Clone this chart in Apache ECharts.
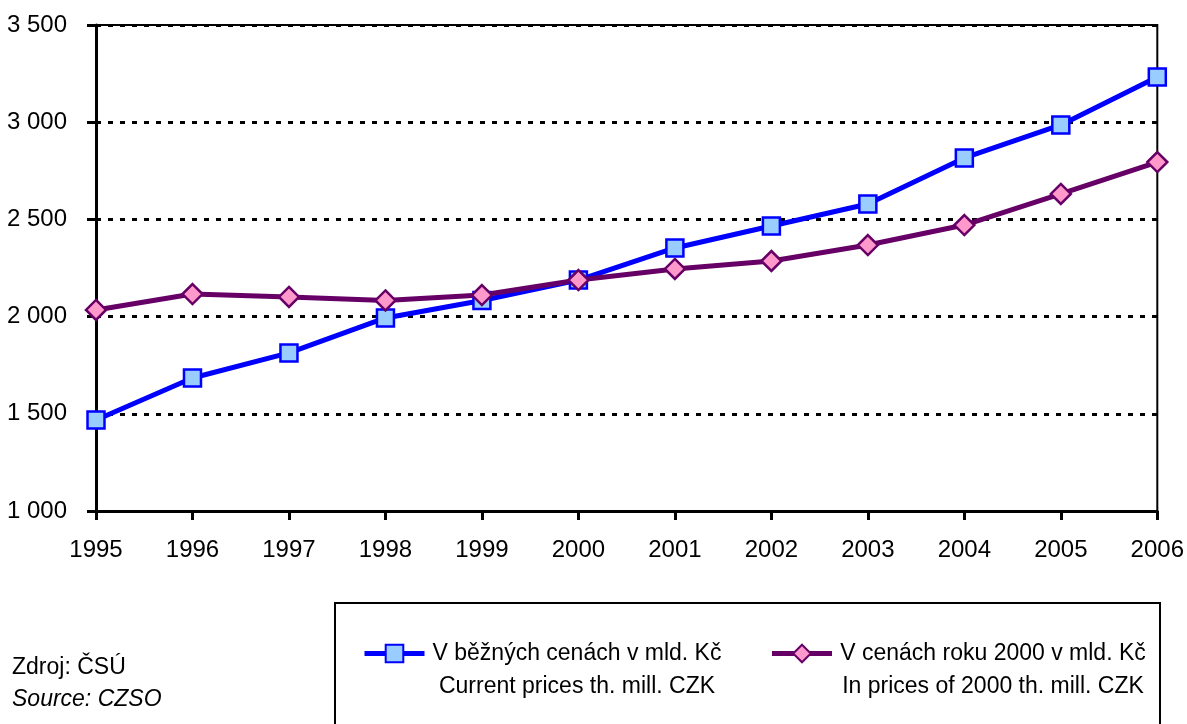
<!DOCTYPE html>
<html>
<head>
<meta charset="utf-8">
<script src="https://cdn.jsdelivr.net/npm/echarts@6/dist/echarts.min.js"></script>
<style>
  html, body { margin: 0; padding: 0; background: #fff; }
  #chart { width: 1187px; height: 724px; }
</style>
</head>
<body>
<div id="chart"></div>
<script>
var years = ['1995', '1996', '1997', '1998', '1999', '2000', '2001', '2002', '2003', '2004', '2005', '2006']
var currentPrices = [1468, 1684, 1813, 1993, 2083, 2188, 2353, 2466, 2579, 2816, 2986, 3233]
var constPrices = [2034, 2116, 2101, 2083, 2111, 2188, 2245, 2286, 2368, 2471, 2631, 2795]

var name1 = 'V běžných cenách v mld. Kč'
var name1en = 'Current prices th. mill. CZK'
var name2 = 'V cenách roku 2000 v mld. Kč'
var name2en = 'In prices of 2000 th. mill. CZK'

var font = "'Liberation Sans Narrow', 'Arial Narrow', 'Liberation Sans', sans-serif"

var chart = echarts.init(document.getElementById('chart'))

var option = {
    animation: false,
    grid: {
        left: 96, right: 29, top: 25, bottom: 213,
        show: true, borderColor: '#000', borderWidth: 2
    },
    xAxis: {
        type: 'category',
        boundaryGap: false,
        data: years,
        axisLine: { lineStyle: { color: '#000', width: 3 } },
        axisTick: { length: 9, lineStyle: { color: '#000', width: 3 } },
        axisLabel: { margin: 27, color: '#000', fontSize: 24, fontFamily: font }
    },
    yAxis: {
        type: 'value',
        min: 1000, max: 3500, interval: 500,
        axisLine: { show: true, lineStyle: { color: '#000', width: 3 } },
        axisTick: { show: true, length: 9, lineStyle: { color: '#000', width: 3 } },
        axisLabel: {
            margin: 29, color: '#000', fontSize: 24, fontFamily: font,
            formatter: function (v) { return String(v).replace(/\B(?=(\d{3})+(?!\d))/g, ' ') }
        },
        splitLine: { lineStyle: { color: '#000', width: 3, type: [5, 7] } }
    },
    legend: {
        left: 362, top: 609,
        itemWidth: 60, itemHeight: 22, itemGap: 45,
        padding: 0,
        data: [name1, name2],
        lineStyle: { width: 5 },
        formatter: function (name) {
            var k = name === name1 ? 'a' : 'b'
            var en = name === name1 ? name1en : name2en
            // blank first line keeps the icon level with the Czech line
            return '{' + k + '| }\n{' + k + '|' + name + '}\n{' + k + '|' + en + '}'
        },
        textStyle: {
            color: '#000', fontFamily: font, fontSize: 23,
            rich: {
                a: { width: 295, align: 'center', fontSize: 23, lineHeight: 33, fontFamily: font },
                b: { width: 312, align: 'center', fontSize: 23, lineHeight: 33, fontFamily: font }
            }
        }
    },
    graphic: [
        { type: 'rect', shape: { x: 335, y: 603, width: 825, height: 130 },
          style: { fill: 'none', stroke: '#000', lineWidth: 2 } },
        { type: 'text', left: 12, top: 656,
          style: { text: 'Zdroj: ČSÚ', fill: '#000', font: '23px ' + font } },
        { type: 'text', left: 12, top: 688,
          style: { text: 'Source: CZSO', fill: '#000', font: 'italic 23px ' + font } }
    ],
    series: [
        {
            name: name1,
            type: 'line',
            data: currentPrices,
            symbol: 'rect', symbolSize: 17,
            lineStyle: { color: '#0000ff', width: 5 },
            itemStyle: { color: '#99ccff', borderColor: '#0000ff', borderWidth: 2.5 }
        },
        {
            name: name2,
            type: 'line',
            data: constPrices,
            symbol: 'diamond', symbolSize: 20,
            lineStyle: { color: '#660066', width: 5 },
            itemStyle: { color: '#ff99cc', borderColor: '#660066', borderWidth: 2.5 }
        }
    ]
}

chart.setOption(option)
</script>
</body>
</html>
